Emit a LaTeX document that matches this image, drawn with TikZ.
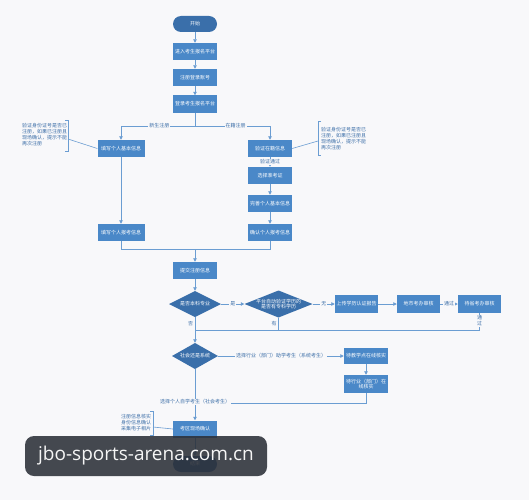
\documentclass[tikz,border=0pt]{standalone}
\usepackage{fontspec}
\setmainfont{Noto Sans CJK SC}
\newfontfamily\wmfont{Open Sans}
\usetikzlibrary{shapes.geometric,arrows.meta}
\definecolor{bg}{HTML}{F8F8FA}
\definecolor{boxblue}{HTML}{4A88C8}
\definecolor{darkblue}{HTML}{3A6FAA}
\definecolor{lineblue}{HTML}{6B9DD2}
\definecolor{labelblue}{HTML}{3D6FA8}
\definecolor{wmgray}{HTML}{2C3038}
\begin{document}
\begin{tikzpicture}[x=1pt,y=-1pt,
  txt/.style={font=\fontsize{5}{5.7}\selectfont},
  box/.style={txt,fill=boxblue,text=white,minimum width=44pt,minimum height=17pt,inner sep=1pt,align=center},
  term/.style={txt,fill=darkblue,text=white,minimum width=44pt,minimum height=16pt,inner sep=1pt,rounded corners=8pt},
  dia/.style={txt,rectangle,text=white,inner sep=0pt,align=center,
    path picture={\fill[darkblue] (path picture bounding box.north) -- (path picture bounding box.east) -- (path picture bounding box.south) -- (path picture bounding box.west) -- cycle;}},
  ln/.style={draw=lineblue,line width=0.8pt},
  arr/.style={ln,-{Triangle[length=3.5pt,width=3.5pt]}},
  lab/.style={txt,text=labelblue,fill=bg,inner sep=1pt},
  note/.style={txt,text=labelblue,align=left,inner sep=0pt}
]
\fill[bg] (0,0) rectangle (529,500);
\useasboundingbox (0,0) rectangle (529,500);

% main column
\node[term] (st) at (195,24) {开始};
\node[box] (b1) at (195,51.5) {进入考生报名平台};
\node[box] (b2) at (195,77.5) {注册登录账号};
\node[box] (b3) at (195,104) {登录考生报名平台};
\node[box,minimum width=47pt] (L1) at (121,148.5) {填写个人基本信息};
\node[box,minimum width=47pt] (L2) at (121,232.5) {填写个人报考信息};
\node[box] (R1) at (270,148.5) {验证在籍信息};
\node[box] (R2) at (270,175.5) {选择准考证};
\node[box] (R3) at (270,203.5) {完善个人基本信息};
\node[box] (R4) at (270,232.5) {确认个人报考信息};
\node[box] (sub) at (195,270.5) {提交注册信息};
\node[dia,minimum width=52pt,minimum height=26pt] (D1) at (195,304) {是否本科专业};
\node[dia,minimum width=68pt,minimum height=27pt] (D2) at (278.5,304) {平台自动验证学历的\\是否有专科学历};
\node[box,minimum width=43pt,minimum height=18pt] (U) at (356.5,304) {上传学历认证报告};
\node[box,minimum width=43pt,minimum height=18pt] (A1) at (418.5,304) {地市考办审核};
\node[box,minimum width=43pt,minimum height=18pt] (A2) at (479.5,304) {待省考办审核};
\node[dia,minimum width=46pt,minimum height=26pt] (D3) at (195,356) {社会还是系统};
\node[box,minimum height=16pt] (T1) at (366,356) {待教学点在线核实};
\node[box,minimum height=18pt] (T2) at (366,384) {待行业（部门）在\\线核实};
\node[box,minimum height=17pt] (X) at (195,429) {考区现场确认};
\node[term] (E) at (195,464) {结束};

% coordinates
\coordinate (sp) at (195,126);
\coordinate (mg) at (195,249);
\coordinate (j1) at (195,330);
\coordinate (j2) at (195,403);

% connectors
\draw[arr] (st) -- (b1);
\draw[arr] (b1) -- (b2);
\draw[arr] (b2) -- (b3);
\draw[ln] (b3) -- (sp);
\draw[arr] (sp) -| (L1) node[lab,pos=0.24] {新生注册};
\draw[arr] (sp) -| (R1) node[lab,pos=0.27] {在籍注册};
\draw[arr] (R1) -- (R2) node[lab,midway] {验证通过};
\draw[arr] (R2) -- (R3);
\draw[arr] (R3) -- (R4);
\draw[arr] (L1) -- (L2);
\draw[ln] (L2) |- (mg);
\draw[ln] (R4) |- (mg);
\draw[arr] (mg) -- (sub);
\draw[arr] (sub) -- (D1);
\draw[arr] (D1) -- (D2) node[lab,midway] {是};
\draw[arr] (D2) -- (U) node[lab,midway] {无};
\draw[arr] (U) -- (A1);
\draw[arr] (A1) -- (A2) node[lab,midway] {通过};
\draw[ln] (A2) |- (j1) node[lab,pos=0.22,align=center,font=\fontsize{5}{5.5}\selectfont] {通\\过};
\draw[ln] (D2.south) -- (D2.south |- j1) node[txt,text=labelblue,pos=0.5,left,inner sep=1.5pt] {有};
\draw[arr] (D1) -- (D3) node[txt,text=labelblue,pos=0.27,left,inner sep=1.5pt] {否};
\draw[arr] (D3) -- (T1) node[lab,pos=0.5] {选择行业（部门）助学考生（系统考生）};
\draw[arr] (T1) -- (T2);
\draw[ln] (T2) |- (j2);
\draw[arr] (D3) -- (X) node[lab,pos=0.64] {选择个人自学考生（社会考生）};
\draw[arr] (X) -- (E);

% annotations
\node[note,anchor=north west] (n1) at (22,123.5) {验证身份证号是否已\\注册，如果已注册且\\现场确认，提示不能\\再次注册};
\coordinate (k1) at (68,139);
\draw[ln,line width=0.6pt] (65,120) -- (68,120) -- (68,151) -- (65,151);
\draw[ln,line width=0.6pt] (k1) -- (L1.west);

\node[note,anchor=north west] (n2) at (321,127.5) {验证身份证号是否已\\注册，如果已注册且\\现场确认，提示不能\\再次注册};
\coordinate (k2) at (318,141);
\draw[ln,line width=0.6pt] (321,121) -- (318,121) -- (318,155) -- (321,155);
\draw[ln,line width=0.6pt] (R1.east) -- (k2);

\node[note,anchor=north west] (n3) at (121,414.5) {注册信息核实\\身份信息确认\\采集电子相片};
\coordinate (k3) at (153,427);
\draw[ln,line width=0.6pt] (150,411) -- (153,411) -- (153,435) -- (150,435);
\draw[ln,line width=0.6pt] (k3) -- (X.west);

% watermark overlay
\fill[wmgray,opacity=0.88,rounded corners=9pt] (25,436) rectangle (267,476);
\node[font=\wmfont\fontsize{19}{22}\selectfont,text=white!92!gray,inner sep=0pt] (wm) at (146,456) {jbo-sports-arena.com.cn};
\end{tikzpicture}
\end{document}
